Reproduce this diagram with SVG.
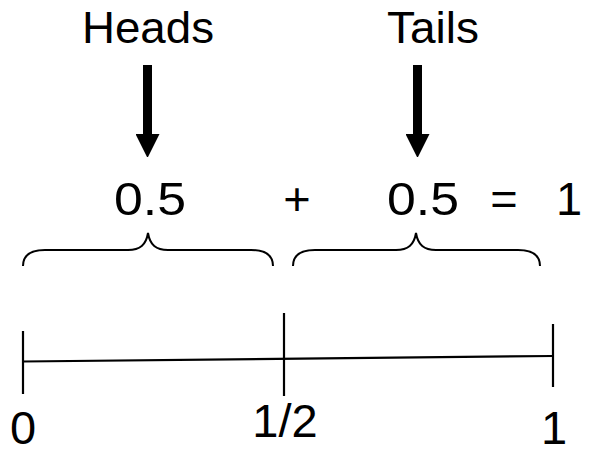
<svg xmlns="http://www.w3.org/2000/svg" width="590" height="450" viewBox="0 0 590 450">
  <style>
    text { font-family: "Liberation Sans", Arial, sans-serif; fill: #000; }
    .label { font-size: 44px; text-anchor: middle; }
    .num { font-size: 47px; }
    .mid { text-anchor: middle; }
    .line { stroke: #000; stroke-width: 2.2; fill: none; }
    .brace { stroke: #000; stroke-width: 2; fill: none; }
    .shaft { stroke: #000; stroke-width: 9; }
  </style>
  <defs>
    <marker id="head" viewBox="0 0 23 24" refX="0" refY="12" markerWidth="23" markerHeight="24" markerUnits="userSpaceOnUse" orient="auto">
      <polygon points="0,0 24,12 0,24" fill="#000"/>
    </marker>
  </defs>
  <rect width="590" height="450" fill="#fff"/>

  <g id="heads">
    <text class="label" x="148" y="43" textLength="132" lengthAdjust="spacingAndGlyphs">Heads</text>
  </g>
  <g id="tails">
    <text class="label" x="433" y="43" textLength="92" lengthAdjust="spacingAndGlyphs">Tails</text>
  </g>

  <g id="connectors">
    <line class="shaft" x1="147.5" y1="65" x2="147.5" y2="134" marker-end="url(#head)"/>
    <line class="shaft" x1="417.5" y1="65" x2="417.5" y2="134" marker-end="url(#head)"/>
  </g>

  <g id="equation">
    <text class="num mid" x="150" y="215" textLength="72" lengthAdjust="spacingAndGlyphs">0.5</text>
    <text class="num mid" x="297" y="215">+</text>
    <text class="num mid" x="423" y="215" textLength="72" lengthAdjust="spacingAndGlyphs">0.5</text>
    <text class="num mid" x="504" y="215">=</text>
    <text class="num" x="556" y="215">1</text>
  </g>

  <g id="braces">
    <path class="brace" d="M23,266 C23,256 30,250 45,250 L128,250 C140,250 146,245 148,233 C150,245 156,250 168,250 L251,250 C266,250 273,256 273,266"/>
    <path class="brace" d="M293,266 C293,256 300,250 315,250 L396,250 C408,250 414,245 416,233 C418,245 424,250 436,250 L518,250 C533,250 540,256 540,266"/>
  </g>

  <g id="number-line">
    <line class="line" x1="23" y1="361.5" x2="553" y2="356"/>
    <line class="line" x1="23" y1="331" x2="23" y2="394"/>
    <line class="line" x1="284" y1="313" x2="284" y2="396"/>
    <line class="line" x1="553" y1="324" x2="553" y2="387"/>
    <text class="num mid" x="23" y="444">0</text>
    <text class="num mid" x="285" y="437">1/2</text>
    <text class="num" x="541" y="444">1</text>
  </g>
</svg>
